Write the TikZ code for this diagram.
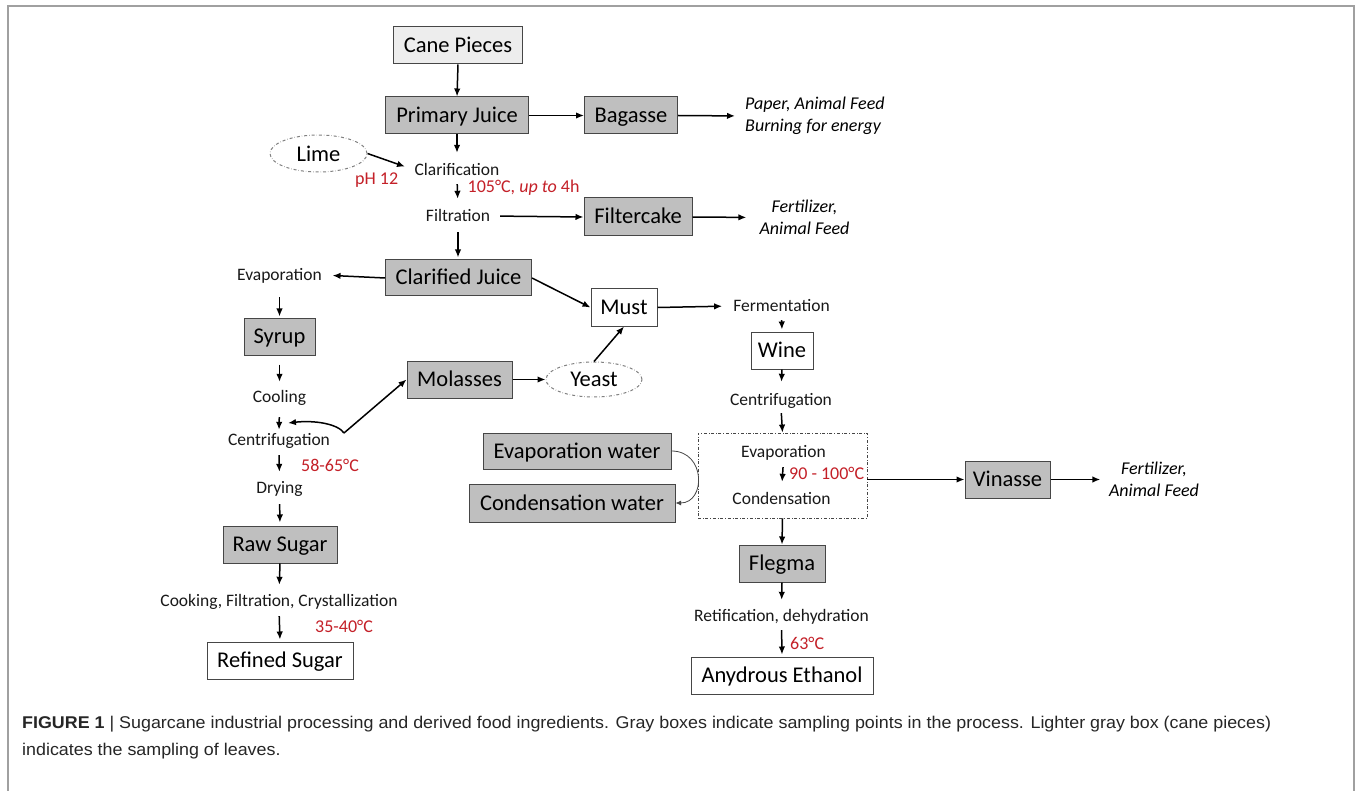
\documentclass[tikz,border=0pt]{standalone}
\usepackage{fontspec}
\usepackage{graphicx}
\setmainfont{Carlito}
\newfontfamily\capfont{Liberation Sans}
\usetikzlibrary{arrows.meta,shapes.geometric}
\definecolor{boxgray}{RGB}{191,191,191}
\definecolor{lightbox}{RGB}{237,237,237}
\definecolor{edgecol}{RGB}{70,70,70}
\definecolor{tempred}{RGB}{196,32,40}
\definecolor{framegray}{RGB}{160,160,160}
\newlength\capwd
\newcommand\mycaptiona{\textbf{FIGURE 1} | Sugarcane industrial processing and derived food ingredients. Gray boxes indicate sampling points in the process. Lighter gray box (cane pieces)}
\newcommand\mycaptionb{indicates the sampling of leaves.}
\newcommand\capsize{\capfont\fontsize{17}{20}\selectfont}
\tikzset{
 gbox/.style={draw=edgecol, line width=1pt, fill=boxgray, inner sep=0pt, minimum height=37pt, text height=17pt, text depth=3pt, font=\fontsize{22.5}{26}\selectfont},
 wbox/.style={gbox, fill=white},
 lbox/.style={gbox, fill=lightbox},
 proc/.style={inner sep=0pt, text height=13pt, text depth=2pt, text=black!90, font=\fontsize{17.5}{20}\selectfont},
 tempc/.style={inner sep=0pt, anchor=west, text=tempred, font=\fontsize{18}{20}\selectfont},
 usetext/.style={inner sep=0pt, font=\fontsize{18}{22}\selectfont\itshape},
 oval/.style={ellipse, draw=gray, dashdotted, line width=1pt, inner sep=0pt, font=\fontsize{22.5}{26}\selectfont},
 arr/.style={draw=black, line width=1.5pt, -{Latex[length=8pt,width=6.5pt]}},
 thinarr/.style={draw=edgecol, line width=0.8pt, -{Latex[length=5.5pt,width=5pt]}},
 dbox/.style={draw=edgecol, dashdotted, line width=0.8pt, inner sep=0pt},
}
\begin{document}
\settowidth\capwd{\capsize\mycaptiona}%
\pgfmathsetmacro\capsx{1249/\capwd}%
\begin{tikzpicture}[x=1pt,y=-1pt]
\useasboundingbox (0,0) rectangle (1356,791);
\fill[white] (0,0) rectangle (1356,791);
\draw[framegray, line width=2pt] (8,791) -- (8,6) -- (1354,6) -- (1354,791);

% top column
\node[lbox, minimum width=129pt] (cane) at (458,45.5) {Cane Pieces};
\node[gbox, minimum width=143pt] (pj) at (457,115.5) {Primary Juice};
\node[gbox, minimum width=93pt] (bag) at (631,115.5) {Bagasse};
\node[usetext, anchor=west, align=left] (paper) at (745,116) {Paper, Animal Feed\\Burning for energy};
\node[oval, minimum width=97pt, minimum height=37pt] (lime) at (318.5,153.5) {Lime};
\node[proc] (clar) at (457,170) {Clarification};
\node[tempc] (ph) at (355,180) {pH 12};
\node[tempc] (t1) at (467.5,188) {105°C, \textit{up to} 4h};
\node[proc] (filt) at (458,216) {Filtration};
\node[gbox, minimum width=108pt, minimum height=38pt] (fc) at (638,217) {Filtercake};
\node[usetext, align=center] (fert1) at (804.5,217.5) {Fertilizer,\\Animal Feed};
\node[gbox, minimum width=146pt, minimum height=36pt] (cj) at (458.5,278) {Clarified Juice};

% left column
\node[proc] (evap) at (279.5,275) {Evaporation};
\node[gbox, minimum width=71pt] (syrup) at (279.5,336.5) {Syrup};
\node[proc] (cool) at (279.5,397) {Cooling};
\node[proc] (cent) at (279,440) {Centrifugation};
\node[tempc] (t2) at (301,465) {58-65°C};
\node[proc] (dry) at (279.5,488) {Drying};
\node[gbox, minimum width=114pt] (raw) at (280,544.5) {Raw Sugar};
\node[proc] (cook) at (279,601) {Cooking, Filtration, Crystallization};
\node[tempc] (t3) at (315,626) {35-40°C};
\node[wbox, minimum width=146pt] (refined) at (280,660.5) {Refined Sugar};

% middle
\node[gbox, minimum width=105pt] (mol) at (459.5,379.5) {Molasses};
\node[oval, minimum width=96pt, minimum height=35pt] (yeast) at (594,379.5) {Yeast};
\node[wbox, minimum width=66pt] (must) at (624,307.5) {Must};
\node[gbox, minimum width=188pt, minimum height=36pt] (ew) at (577,451) {Evaporation water};
\node[gbox, minimum width=206pt, minimum height=38pt] (cw) at (572,503) {Condensation water};

% right column
\node[proc] (ferm) at (781.5,306) {Fermentation};
\node[wbox, minimum width=62pt] (wine) at (782,350.5) {Wine};
\node[proc] (cent2) at (781,400) {Centrifugation};
\node[dbox, minimum width=169pt, minimum height=85pt] (dx) at (782.5,475.5) {};
\node[proc] (evap2) at (783.5,452) {Evaporation};
\node[tempc] (t4) at (789,473) {90 - 100°C};
\node[proc] (cond2) at (781.5,499) {Condensation};
\node[gbox, minimum width=86pt] (flegma) at (782,563.5) {Flegma};
\node[proc] (ret) at (781.5,616) {Retification, dehydration};
\node[tempc] (t5) at (790,643) {63°C};
\node[wbox, minimum width=182pt] (eth) at (782,675.5) {Anydrous Ethanol};
\node[gbox, minimum width=85pt] (vin) at (1007.5,479.5) {Vinasse};
\node[usetext, align=center] (fert2) at (1154,479.5) {Fertilizer,\\Animal Feed};

\coordinate (split) at (344,433);
\coordinate (back) at (288,423);

% connectors
\draw[arr] (cane.south) -- (pj.north);
\draw[arr] (pj.east) -- (bag.west);
\draw[arr, shorten >=10pt] (bag.east) -- (paper.west);
\draw[arr, shorten >=9.5pt] (pj.south) -- (clar.north);
\draw[arr, shorten >=10pt] (lime.east) -- (clar.west);
\draw[arr, shorten <=6.5pt, shorten >=9.5pt] (clar.south) -- (filt.north);
\draw[arr, shorten <=10pt] (filt.east) -- (fc.west);
\draw[arr, shorten >=13pt] (fc.east) -- (fert1.west);
\draw[arr, shorten <=8.5pt, shorten >=2pt] (filt.south) -- (cj.north -| filt.south);
\draw[arr, shorten >=10.5pt] (cj.west) -- (evap.east);
\draw[arr, shorten <=14.5pt, shorten >=1pt] (evap.south) -- (syrup.north);
\draw[arr, shorten <=9pt, shorten >=7.5pt] (syrup.south) -- (cool.north);
\draw[arr, shorten <=12.5pt, shorten >=2.5pt] (cool.south) -- (cent.north);
\draw[arr, shorten <=7.5pt, shorten >=8.5pt] (cent.south) -- (dry.north);
\draw[arr, shorten <=8.5pt, shorten >=3pt] (dry.south) -- (raw.north);
\draw[arr, shorten >=8.5pt] (raw.south) -- (cook.north);
\draw[arr, shorten <=7.5pt, shorten >=2pt] (cook.south) -- (refined.north);
\draw[arr] (split) -- (mol.west);
\draw[arr] (split) .. controls (338,424) and (315,420) .. (back);
\draw[arr] (cj.east) -- (must.west);
\draw[arr] (mol.east) -- (yeast.west);
\draw[arr] (yeast.north) -- (must.south);
\draw[arr, shorten >=11pt] (must.east) -- (ferm.west);
\draw[arr, shorten <=6.5pt, shorten >=2pt] (ferm.south) -- (wine.north);
\draw[arr, shorten >=10.5pt] (wine.south) -- (cent2.north);
\draw[arr, shorten <=5.5pt] (cent2.south) -- (dx.north);
\draw[arr, shorten <=7.5pt, shorten >=9.5pt] (evap2.south) -- (cond2.north);
\draw[arr] (dx.south) -- (flegma.north);
\draw[arr, shorten >=8.5pt] (flegma.south) -- (ret.north);
\draw[arr, shorten <=6.5pt, shorten >=2pt] (ret.south) -- (eth.north);
\draw[arr] (dx.east |- vin.west) -- (vin.west);
\draw[arr, shorten >=8.5pt] (vin.east) -- (fert2.west);
\draw[thinarr] (ew.east) .. controls (706,451) and (706,503) .. (cw.east);

% caption
\node[anchor=base west, inner sep=0pt, text=black!85] (cap1) at (22,728) {\scalebox{\capsx}[1]{\capsize\mycaptiona}};
\node[anchor=base west, inner sep=0pt, text=black!85] (cap2) at (22,755) {\scalebox{\capsx}[1]{\capsize\mycaptionb}};
\end{tikzpicture}
\end{document}
